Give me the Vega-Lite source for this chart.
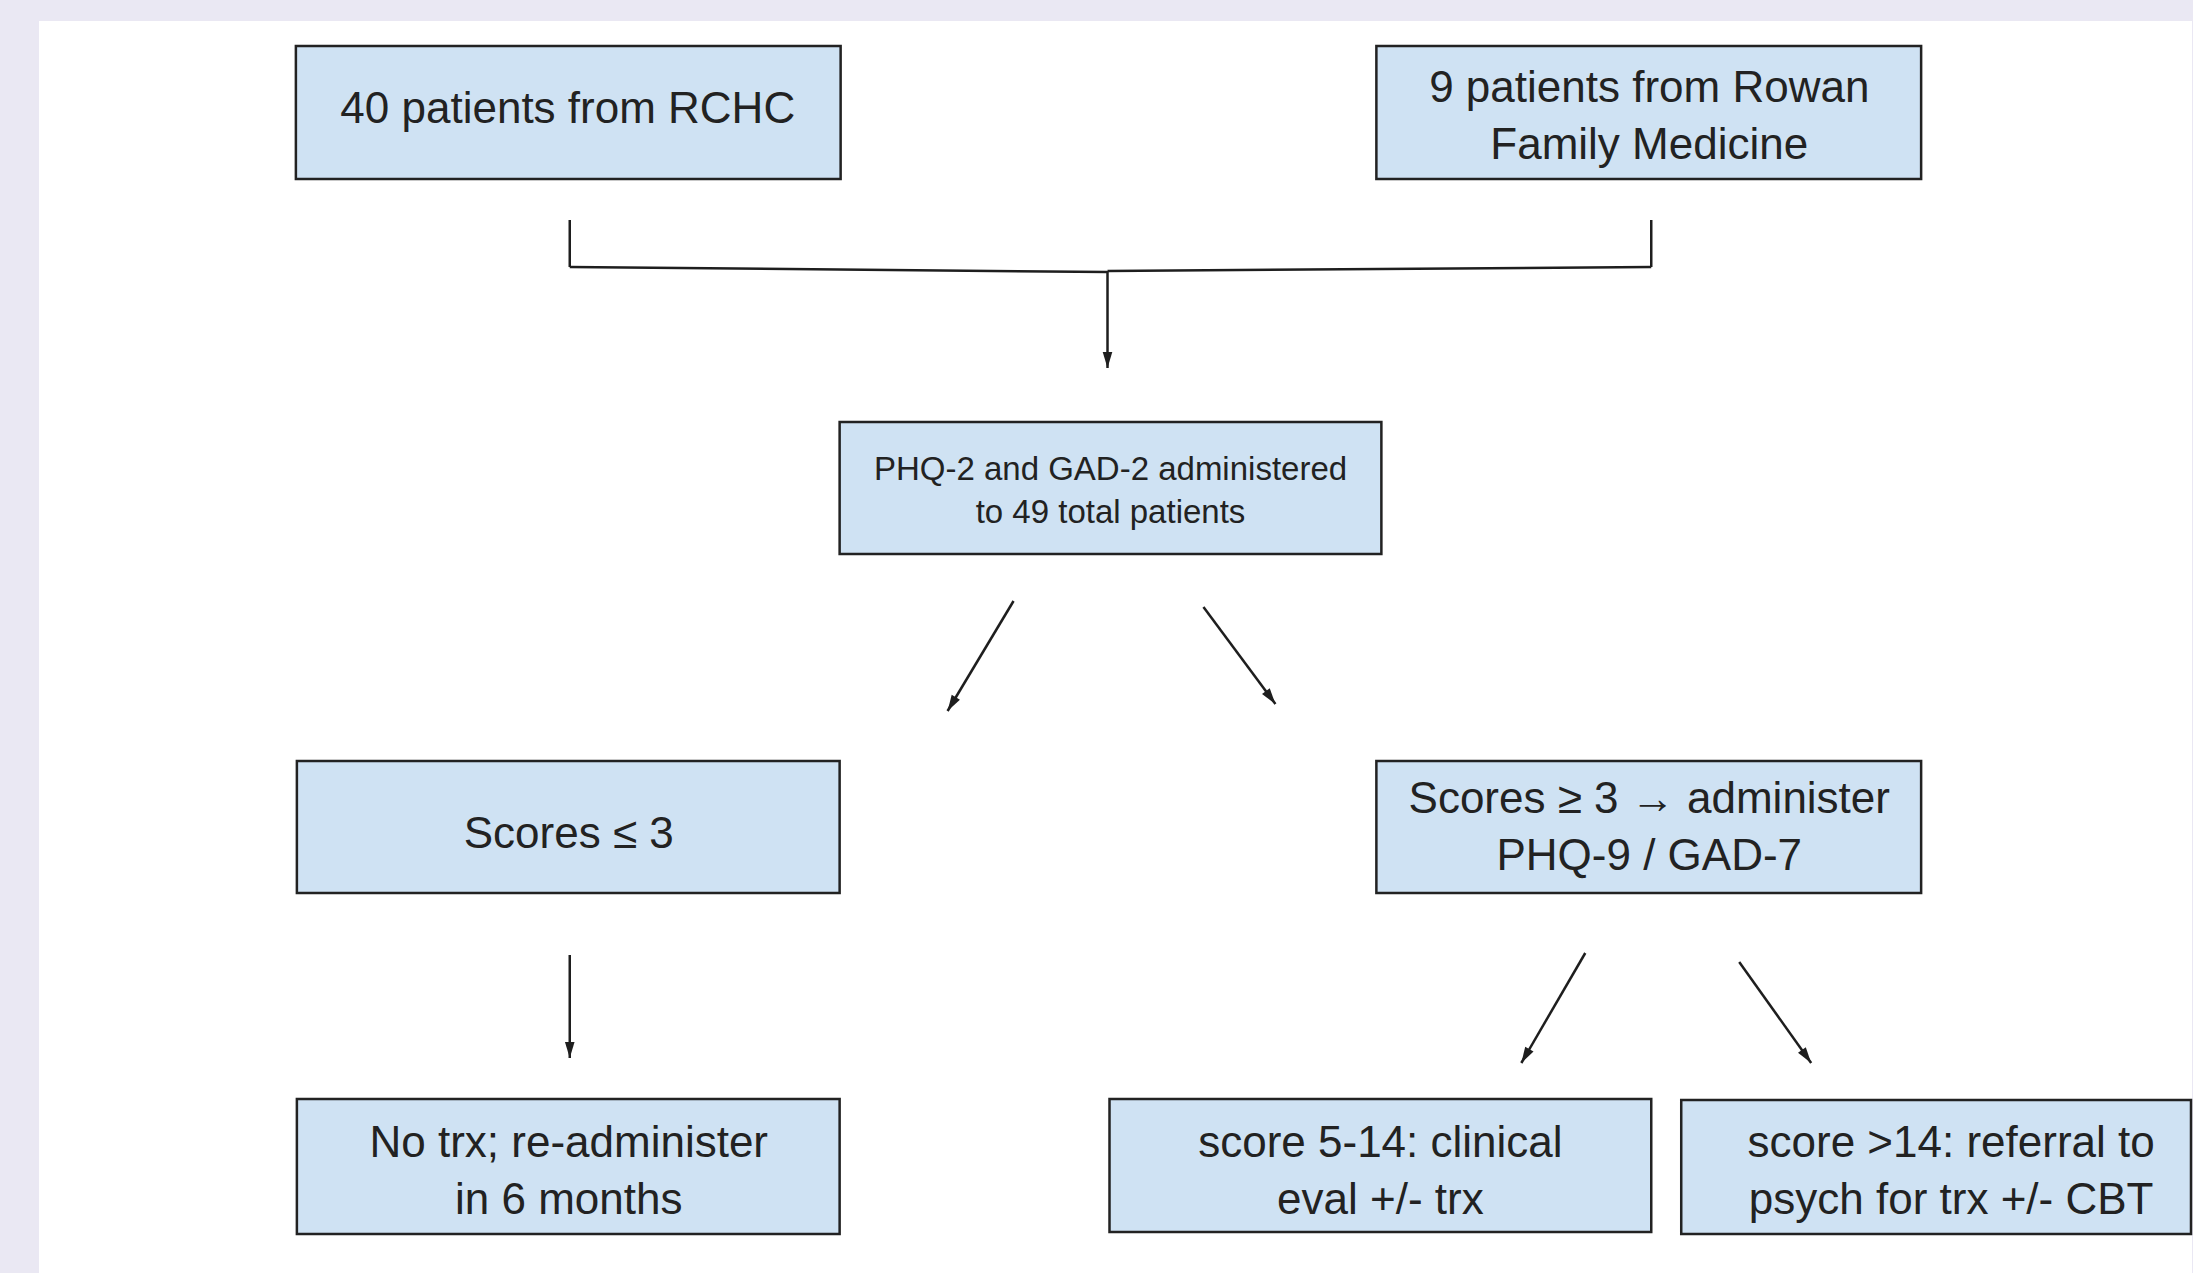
{
  "$schema": "https://vega.github.io/schema/vega-lite/v6.json",
  "width": 2193,
  "height": 1273,
  "autosize": {"type": "fit", "contains": "padding"},
  "padding": {"left": 39, "top": 21, "right": 0, "bottom": 0},
  "background": "#eae8f3",
  "view": {"fill": "#ffffff", "stroke": null},
  "datasets": {
    "boxes": [
      {"id": "rchc", "x1": 296, "x2": 841, "y1": 46, "y2": 179, "lx": 568, "ly": 110, "label": "40 patients from RCHC"},
      {"id": "rowan", "x1": 1377, "x2": 1922, "y1": 46, "y2": 179, "lx": 1650, "ly": 89, "label": "9 patients from Rowan\nFamily Medicine"},
      {"id": "screen", "x1": 840, "x2": 1382, "y1": 422, "y2": 554, "lx": 1111, "ly": 470, "label": "PHQ-2 and GAD-2 administered\nto 49 total patients"},
      {"id": "low", "x1": 297, "x2": 840, "y1": 761, "y2": 893, "lx": 569, "ly": 835, "label": "Scores ≤ 3"},
      {"id": "high", "x1": 1377, "x2": 1922, "y1": 761, "y2": 893, "lx": 1650, "ly": 800, "label": "Scores ≥ 3 → administer\nPHQ-9 / GAD-7"},
      {"id": "retest", "x1": 297, "x2": 840, "y1": 1099, "y2": 1234, "lx": 569, "ly": 1144, "label": "No trx; re-administer\nin 6 months"},
      {"id": "eval", "x1": 1110, "x2": 1652, "y1": 1099, "y2": 1232, "lx": 1381, "ly": 1144, "label": "score 5-14: clinical\neval +/- trx"},
      {"id": "refer", "x1": 1682, "x2": 2192, "y1": 1100, "y2": 1234, "lx": 1952, "ly": 1144, "label": "score >14: referral to\npsych for trx +/- CBT"}
    ],
    "links": [
      {"x1": 570, "y1": 220, "x2": 570, "y2": 267, "head": false, "deg": 0},
      {"x1": 1652, "y1": 220, "x2": 1652, "y2": 267, "head": false, "deg": 0},
      {"x1": 570, "y1": 267, "x2": 1108, "y2": 272, "head": false, "deg": 0},
      {"x1": 1108, "y1": 271, "x2": 1652, "y2": 267, "head": false, "deg": 0},
      {"x1": 1108, "y1": 271, "x2": 1108, "y2": 368, "head": true, "deg": 0},
      {"x1": 1014, "y1": 601, "x2": 948, "y2": 711, "head": true, "deg": 31},
      {"x1": 1204, "y1": 607, "x2": 1276, "y2": 704, "head": true, "deg": -36.6},
      {"x1": 570, "y1": 955, "x2": 570, "y2": 1058, "head": true, "deg": 0},
      {"x1": 1586, "y1": 953, "x2": 1522, "y2": 1063, "head": true, "deg": 30.2},
      {"x1": 1740, "y1": 962, "x2": 1812, "y2": 1063, "head": true, "deg": -35.5}
    ]
  },
  "layer": [
    {
      "data": {"name": "boxes"},
      "mark": {"type": "rect", "fill": "#cfe2f3", "stroke": "#222222", "strokeWidth": 2.5},
      "encoding": {
        "x": {"field": "x1", "type": "quantitative", "scale": {"domain": [39, 2193], "zero": false, "nice": false}, "axis": null},
        "x2": {"field": "x2"},
        "y": {"field": "y1", "type": "quantitative", "scale": {"domain": [21, 1273], "zero": false, "nice": false, "reverse": true}, "axis": null},
        "y2": {"field": "y2"}
      }
    },
    {
      "data": {"name": "links"},
      "mark": {"type": "rule", "stroke": "#1e1e1e", "strokeWidth": 2.5},
      "encoding": {
        "x": {"field": "x1", "type": "quantitative", "scale": {"domain": [39, 2193], "zero": false, "nice": false}, "axis": null},
        "x2": {"field": "x2"},
        "y": {"field": "y1", "type": "quantitative", "scale": {"domain": [21, 1273], "zero": false, "nice": false, "reverse": true}, "axis": null},
        "y2": {"field": "y2"}
      }
    },
    {
      "data": {"name": "links"},
      "transform": [{"filter": "datum.head"}],
      "mark": {"type": "point", "shape": "M0,0L-0.3,-1L0.3,-1Z", "filled": true, "size": 1024, "color": "#1e1e1e", "opacity": 1},
      "encoding": {
        "x": {"field": "x2", "type": "quantitative", "scale": {"domain": [39, 2193], "zero": false, "nice": false}, "axis": null},
        "y": {"field": "y2", "type": "quantitative", "scale": {"domain": [21, 1273], "zero": false, "nice": false, "reverse": true}, "axis": null},
        "angle": {"field": "deg", "type": "quantitative", "scale": null}
      }
    },
    {
      "data": {"name": "boxes"},
      "transform": [{"filter": "datum.id != 'screen'"}],
      "mark": {"type": "text", "font": "Liberation Sans", "fontSize": 44, "lineHeight": 57, "lineBreak": "\n", "align": "center", "baseline": "middle", "color": "#222222"},
      "encoding": {
        "x": {"field": "lx", "type": "quantitative", "scale": {"domain": [39, 2193], "zero": false, "nice": false}, "axis": null},
        "y": {"field": "ly", "type": "quantitative", "scale": {"domain": [21, 1273], "zero": false, "nice": false, "reverse": true}, "axis": null},
        "text": {"field": "label"}
      }
    },
    {
      "data": {"name": "boxes"},
      "transform": [{"filter": "datum.id == 'screen'"}],
      "mark": {"type": "text", "font": "Liberation Sans", "fontSize": 33, "lineHeight": 43, "lineBreak": "\n", "align": "center", "baseline": "middle", "color": "#222222"},
      "encoding": {
        "x": {"field": "lx", "type": "quantitative", "scale": {"domain": [39, 2193], "zero": false, "nice": false}, "axis": null},
        "y": {"field": "ly", "type": "quantitative", "scale": {"domain": [21, 1273], "zero": false, "nice": false, "reverse": true}, "axis": null},
        "text": {"field": "label"}
      }
    }
  ]
}
